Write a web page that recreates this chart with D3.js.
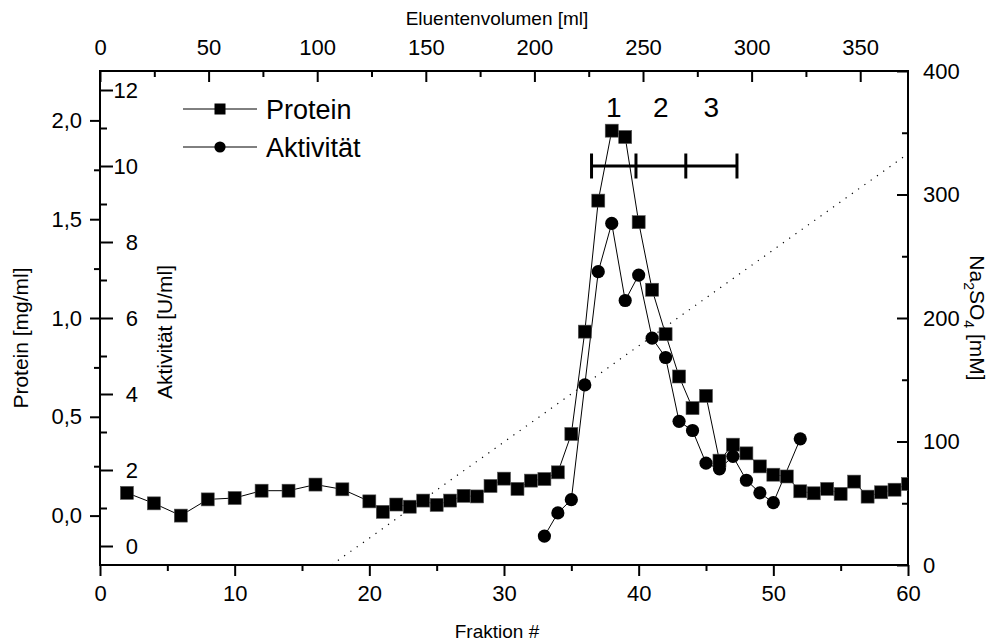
<!DOCTYPE html>
<html>
<head>
<meta charset="utf-8">
<script src="https://cdn.jsdelivr.net/npm/d3@7"></script>
<style>
  html, body { margin: 0; padding: 0; background: #fff; }
  svg { display: block; font-family: "Liberation Sans", Arial, Helvetica, sans-serif; }
  .axis text { fill: #000; }
  .axis line { stroke: #000; stroke-width: 2; }
  .axis path { display: none; }
</style>
</head>
<body>
<svg id="chart" width="992" height="642"></svg>
<script>
// Fraction numbers and measured protein concentration [mg/ml]
const proteinFraction = [2, 4, 6, 8, 10, 12, 14, 16, 18, 20,
  21, 22, 23, 24, 25, 26, 27, 28, 29, 30,
  31, 32, 33, 34, 35, 36, 37, 38, 39, 40,
  41, 42, 43, 44, 45, 46, 47, 48, 49, 50,
  51, 52, 53, 54, 55, 56, 57, 58, 59, 60];
const proteinValue = [0.115, 0.062, 0.000, 0.082, 0.089, 0.126, 0.126, 0.157, 0.133, 0.072,
  0.019, 0.056, 0.045, 0.076, 0.054, 0.076, 0.100, 0.097, 0.150, 0.187,
  0.135, 0.177, 0.185, 0.219, 0.413, 0.931, 1.594, 1.948, 1.916, 1.485,
  1.143, 0.918, 0.704, 0.544, 0.606, 0.278, 0.359, 0.315, 0.249, 0.207,
  0.198, 0.123, 0.113, 0.135, 0.110, 0.172, 0.096, 0.118, 0.131, 0.160];

// Enzyme activity [U/ml] of the assayed fractions
const activityFraction = [33, 34, 35, 36, 37, 38, 39, 40, 41, 42, 43, 44, 45, 46, 47, 48, 49, 50, 52];
const activityValue = [0.26, 0.87, 1.22, 4.24, 7.22, 8.49, 6.46, 7.13, 5.47, 4.96,
  3.28, 3.04, 2.18, 2.03, 2.36, 1.73, 1.40, 1.14, 2.82];

// Linear Na2SO4 gradient [mM] (start and end point, in fractions)
const gradientFraction = [17.2, 60];
const gradientNa2SO4 = [0, 333];

// Pooled fraction ranges 1-3 (boundaries in fractions) drawn at activity level 10
const poolBounds = [36.5, 39.8, 43.5, 47.3];
const poolLabels = ["1", "2", "3"];
const poolLevel = 10;

// Axis ticks
const fractionTicks = [0, 10, 20, 30, 40, 50, 60];
const fractionMinor = [5, 15, 25, 35, 45, 55];
const volumeTicks = [0, 50, 100, 150, 200, 250, 300, 350];
const volumeMinor = [25, 75, 125, 175, 225, 275, 325];
const proteinTicks = [0, 0.5, 1.0, 1.5, 2.0];
const proteinMinor = [0.25, 0.75, 1.25, 1.75];
const activityTicks = [0, 2, 4, 6, 8, 10, 12];
const activityMinor = [1, 3, 5, 7, 9, 11];
const saltTicks = [0, 100, 200, 300, 400];
const saltMinor = [50, 150, 250, 350];

const plotLeft = 100, plotRight = 908, plotTop = 71, plotBottom = 565;
const svg = d3.select("#chart");

const x = d3.scaleLinear().domain([0, 60]).range([plotLeft, plotRight]);
const xVol = d3.scaleLinear().domain([0, 372]).range([plotLeft, plotRight]);
const yProt = d3.scaleLinear().domain([-0.25, 2.25]).range([plotBottom, plotTop]);
const yAct = d3.scaleLinear().domain([-0.5, 12.5]).range([plotBottom, plotTop]);
const ySalt = d3.scaleLinear().domain([0, 400]).range([plotBottom, plotTop]);

const commaFmt = d => d3.format(".1f")(d).replace(".", ",");
const tickFont = 22;

function styleAxis(g) {
  g.selectAll("text").attr("font-size", tickFont);
}

// Bottom axis: fractions
svg.append("g").attr("class", "axis").attr("transform", `translate(0,${plotBottom})`)
  .call(d3.axisBottom(x).tickValues(fractionTicks).tickSize(11).tickPadding(9).tickSizeOuter(0))
  .call(styleAxis);
svg.append("g").attr("class", "axis").attr("transform", `translate(0,${plotBottom})`)
  .call(d3.axisBottom(x).tickValues(fractionMinor).tickSize(6).tickFormat("").tickSizeOuter(0));

// Top axis: eluent volume (ticks pointing inwards)
svg.append("g").attr("class", "axis").attr("transform", `translate(0,${plotTop})`)
  .call(d3.axisTop(xVol).tickValues(volumeTicks).tickSize(-11).tickPadding(16).tickSizeOuter(0))
  .call(styleAxis);
svg.append("g").attr("class", "axis").attr("transform", `translate(0,${plotTop})`)
  .call(d3.axisTop(xVol).tickValues(volumeMinor).tickSize(-6).tickFormat("").tickSizeOuter(0));

// Left axis: protein
svg.append("g").attr("class", "axis").attr("transform", `translate(${plotLeft},0)`)
  .call(d3.axisLeft(yProt).tickValues(proteinTicks).tickFormat(commaFmt).tickSize(10).tickPadding(8).tickSizeOuter(0))
  .call(styleAxis);
svg.append("g").attr("class", "axis").attr("transform", `translate(${plotLeft},0)`)
  .call(d3.axisLeft(yProt).tickValues(proteinMinor).tickSize(6).tickFormat("").tickSizeOuter(0));

// Inner left axis: activity (ticks on the inside, labels right-aligned)
svg.append("g").attr("class", "axis").attr("transform", `translate(${plotLeft},0)`)
  .call(d3.axisRight(yAct).tickValues(activityTicks).tickSize(13).tickSizeOuter(0))
  .call(styleAxis)
  .call(g => g.selectAll("text").attr("text-anchor", "end").attr("x", 38));
svg.append("g").attr("class", "axis").attr("transform", `translate(${plotLeft},0)`)
  .call(d3.axisRight(yAct).tickValues(activityMinor).tickSize(7).tickFormat("").tickSizeOuter(0));

// Right axis: Na2SO4 (ticks pointing inwards)
svg.append("g").attr("class", "axis").attr("transform", `translate(${plotRight},0)`)
  .call(d3.axisRight(ySalt).tickValues(saltTicks).tickSize(-11).tickPadding(15).tickSizeOuter(0))
  .call(styleAxis);
svg.append("g").attr("class", "axis").attr("transform", `translate(${plotRight},0)`)
  .call(d3.axisRight(ySalt).tickValues(saltMinor).tickSize(-6).tickFormat("").tickSizeOuter(0));

// Frame
svg.append("rect")
  .attr("x", plotLeft).attr("y", plotTop)
  .attr("width", plotRight - plotLeft).attr("height", plotBottom - plotTop)
  .attr("fill", "none").attr("stroke", "#000").attr("stroke-width", 2);

// Axis titles
const titleFont = 19;
const sideTitleFont = 21;
svg.append("text").attr("x", (plotLeft + plotRight) / 2 - 7).attr("y", 25)
  .attr("text-anchor", "middle").attr("font-size", titleFont).text("Eluentenvolumen [ml]");
svg.append("text").attr("x", (plotLeft + plotRight) / 2 - 7).attr("y", 638)
  .attr("text-anchor", "middle").attr("font-size", titleFont).text("Fraktion #");
svg.append("text").attr("transform", "translate(28,338) rotate(-90)")
  .attr("text-anchor", "middle").attr("font-size", sideTitleFont).text("Protein [mg/ml]");
svg.append("text").attr("transform", "translate(172,332) rotate(-90)")
  .attr("text-anchor", "middle").attr("font-size", sideTitleFont).text("Aktivität [U/ml]");
const saltTitle = svg.append("text").attr("transform", "translate(970,318) rotate(90)")
  .attr("text-anchor", "middle").attr("font-size", sideTitleFont);
saltTitle.append("tspan").text("Na");
saltTitle.append("tspan").attr("font-size", 14).attr("dy", 6).text("2");
saltTitle.append("tspan").attr("dy", -6).text("SO");
saltTitle.append("tspan").attr("font-size", 14).attr("dy", 6).text("4");
saltTitle.append("tspan").attr("dy", -6).text(" [mM]");

// Clip for plotted data
svg.append("clipPath").attr("id", "plotClip")
  .append("rect").attr("x", plotLeft).attr("y", plotTop).attr("width", plotRight - plotLeft).attr("height", plotBottom - plotTop);
const plot = svg.append("g").attr("clip-path", "url(#plotClip)");

// Salt gradient (dotted)
plot.append("line")
  .attr("x1", x(gradientFraction[0])).attr("y1", ySalt(gradientNa2SO4[0]))
  .attr("x2", x(gradientFraction[1])).attr("y2", ySalt(gradientNa2SO4[1]))
  .attr("stroke", "#000").attr("stroke-width", 1.2).attr("stroke-dasharray", "1.2,6.5");

// Protein series
const protData = proteinFraction.map((f, i) => [f, proteinValue[i]]);
plot.append("path").datum(protData)
  .attr("fill", "none").attr("stroke", "#000").attr("stroke-width", 1)
  .attr("d", d3.line().x(d => x(d[0])).y(d => yProt(d[1])));

// Activity series
const actData = activityFraction.map((f, i) => [f, activityValue[i]]);
plot.append("path").datum(actData)
  .attr("fill", "none").attr("stroke", "#000").attr("stroke-width", 1)
  .attr("d", d3.line().x(d => x(d[0])).y(d => yAct(d[1])));

const sq = 13;
plot.selectAll("rect.prot").data(protData).join("rect")
  .attr("class", "prot")
  .attr("x", d => x(d[0]) - sq / 2).attr("y", d => yProt(d[1]) - sq / 2)
  .attr("width", sq).attr("height", sq)
  .attr("fill", "#000").attr("stroke", "#555").attr("stroke-width", 0.6);

plot.selectAll("circle.act").data(actData).join("circle")
  .attr("class", "act")
  .attr("cx", d => x(d[0])).attr("cy", d => yAct(d[1])).attr("r", 6.6)
  .attr("fill", "#000");

// Pool ranges
const poolY = yAct(poolLevel);
svg.append("line")
  .attr("x1", x(poolBounds[0])).attr("x2", x(poolBounds[poolBounds.length - 1]))
  .attr("y1", poolY).attr("y2", poolY)
  .attr("stroke", "#000").attr("stroke-width", 3);
svg.selectAll("line.poolTick").data(poolBounds).join("line")
  .attr("class", "poolTick")
  .attr("x1", d => x(d)).attr("x2", d => x(d))
  .attr("y1", poolY - 12.5).attr("y2", poolY + 12.5)
  .attr("stroke", "#000").attr("stroke-width", 3);
svg.selectAll("text.poolLabel").data(poolLabels).join("text")
  .attr("class", "poolLabel")
  .attr("x", (d, i) => x((poolBounds[i] + poolBounds[i + 1]) / 2))
  .attr("y", 117)
  .attr("text-anchor", "middle").attr("font-size", 28).text(d => d);

// Legend
const legend = svg.append("g");
const legendItems = [
  { label: "Protein", y: 109, shape: "square" },
  { label: "Aktivität", y: 147, shape: "circle" }
];
legendItems.forEach(item => {
  legend.append("line").attr("x1", 183).attr("x2", 257).attr("y1", item.y).attr("y2", item.y)
    .attr("stroke", "#000").attr("stroke-width", 1);
  if (item.shape === "square") {
    legend.append("rect").attr("x", 220 - 5.5).attr("y", item.y - 5.5).attr("width", 11).attr("height", 11).attr("fill", "#000");
  } else {
    legend.append("circle").attr("cx", 220).attr("cy", item.y).attr("r", 5.6).attr("fill", "#000");
  }
  legend.append("text").attr("x", 266).attr("y", item.y + 10)
    .attr("font-size", 27).text(item.label);
});
</script>
</body>
</html>
